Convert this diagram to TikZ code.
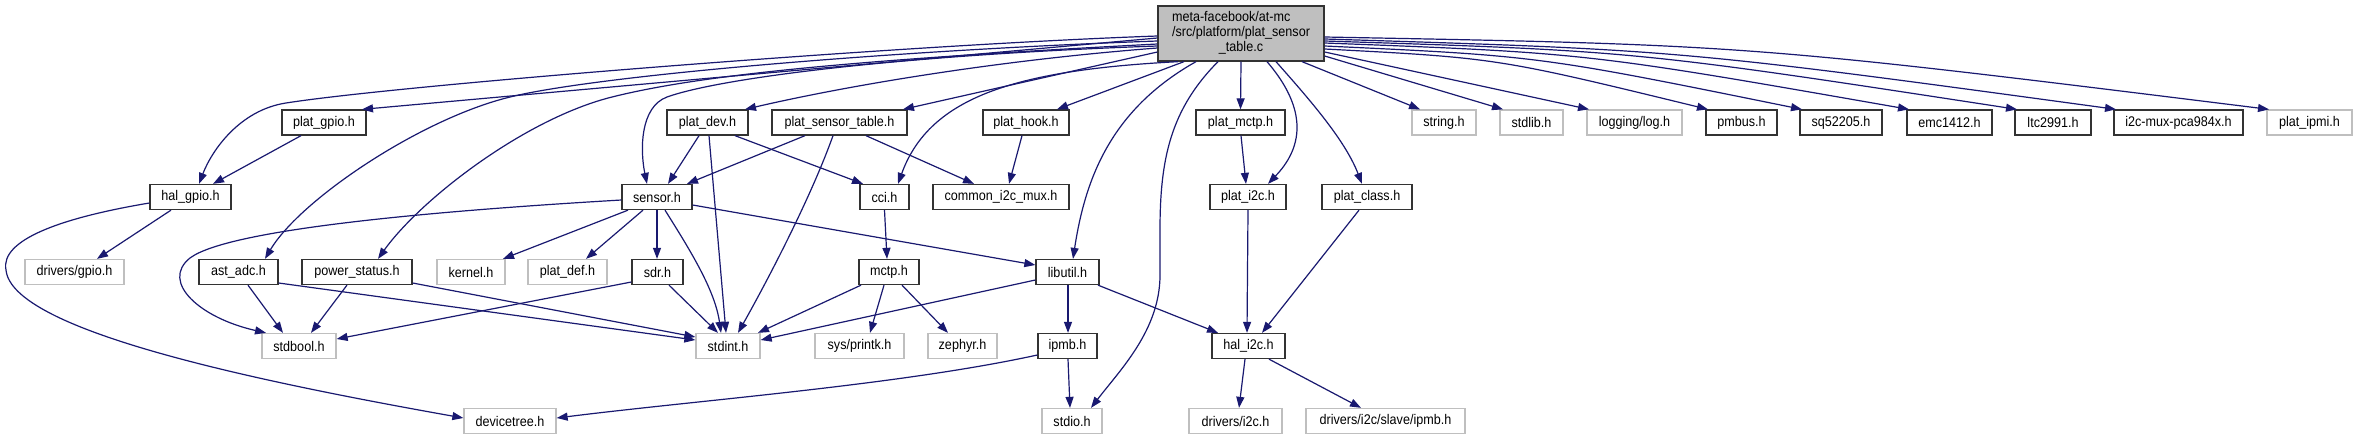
\documentclass[tikz,border=0pt]{standalone}
\usepackage{fontspec}
\setmainfont[FakeStretch=0.9]{Liberation Sans}
\usetikzlibrary{arrows.meta}
\definecolor{edgeblue}{RGB}{25,25,112}
\definecolor{lightg}{RGB}{191,191,191}
\begin{document}
\begin{tikzpicture}[x=1pt,y=-1pt,
  box/.style={draw=black!80, line width=1.3pt, fill=white, inner sep=0pt, minimum height=25pt, font=\fontsize{14}{15}\selectfont, anchor=center},
  sys/.style={box, draw=lightg},
  edge/.style={draw=edgeblue, line width=1.2pt, -{Triangle[length=11pt,width=8pt]}},
]
\useasboundingbox[fill=white] (0,0) rectangle (2357,440);
% root
\node[box, fill=lightg, minimum width=166pt, minimum height=55pt] (root) at (1241,33.5)
  {\begin{tabular}{@{}l@{}}meta-facebook/at-mc\\/src/platform/plat\_sensor\\\multicolumn{1}{@{}c@{}}{\_table.c}\end{tabular}};
% row 1
\node[box, minimum width=84pt] (pgpio) at (324,122.5) {plat\_gpio.h};
\node[box, minimum width=81pt] (pdev) at (707.5,122.5) {plat\_dev.h};
\node[box, minimum width=135pt] (pst) at (839.5,122.5) {plat\_sensor\_table.h};
\node[box, minimum width=86pt] (phook) at (1026,122.5) {plat\_hook.h};
\node[box, minimum width=89pt] (pmctp) at (1240.5,122.5) {plat\_mctp.h};
\node[sys, minimum width=64pt] (string) at (1444,122.5) {string.h};
\node[sys, minimum width=63pt] (stdlib) at (1531.5,122.5) {stdlib.h};
\node[sys, minimum width=95pt] (log) at (1634.5,122.5) {logging/log.h};
\node[box, minimum width=71pt] (pmbus) at (1741.5,122.5) {pmbus.h};
\node[box, minimum width=82pt] (sq) at (1841,122.5) {sq52205.h};
\node[box, minimum width=85pt] (emc) at (1949.5,122.5) {emc1412.h};
\node[box, minimum width=76pt] (ltc) at (2053,122.5) {ltc2991.h};
\node[box, minimum width=129pt] (i2cmux) at (2178.5,122.5) {i2c-mux-pca984x.h};
\node[sys, minimum width=85pt] (pipmi) at (2309.5,122.5) {plat\_ipmi.h};
% row 2
\node[box, minimum width=81pt] (hgpio) at (190.5,197) {hal\_gpio.h};
\node[box, minimum width=70pt] (sensor) at (657,197) {sensor.h};
\node[box, minimum width=49pt] (cci) at (884.5,197) {cci.h};
\node[box, minimum width=136pt] (common) at (1001,197) {common\_i2c\_mux.h};
\node[box, minimum width=76pt] (pi2c) at (1248,197) {plat\_i2c.h};
\node[box, minimum width=90pt] (pclass) at (1367,197) {plat\_class.h};
% row 3
\node[sys, minimum width=99pt] (dgpio) at (74.5,272) {drivers/gpio.h};
\node[box, minimum width=79pt] (astadc) at (238.5,272) {ast\_adc.h};
\node[box, minimum width=110pt] (pstat) at (357,272) {power\_status.h};
\node[sys, minimum width=68pt] (kernel) at (471,272) {kernel.h};
\node[sys, minimum width=79pt] (pdef) at (567.5,272) {plat\_def.h};
\node[box, minimum width=51pt] (sdr) at (657.5,272) {sdr.h};
\node[box, minimum width=60pt] (mctp) at (889,272) {mctp.h};
\node[box, minimum width=63pt] (libutil) at (1067.5,272) {libutil.h};
% row 4
\node[sys, minimum width=74pt] (stdbool) at (299,346) {stdbool.h};
\node[sys, minimum width=64pt] (stdint) at (728,346) {stdint.h};
\node[sys, minimum width=89pt] (printk) at (859.5,346) {sys/printk.h};
\node[sys, minimum width=69pt] (zephyr) at (962.5,346) {zephyr.h};
\node[box, minimum width=59pt] (ipmb) at (1067.5,346) {ipmb.h};
\node[box, minimum width=73pt] (hali2c) at (1248.5,346) {hal\_i2c.h};
% row 5
\node[sys, minimum width=92pt] (devtree) at (510,421) {devicetree.h};
\node[sys, minimum width=60pt] (stdio) at (1072,421) {stdio.h};
\node[sys, minimum width=93pt] (di2c) at (1235.5,421) {drivers/i2c.h};
\node[sys, minimum width=159pt] (slave) at (1385.5,421) {drivers/i2c/slave/ipmb.h};

% edges from root, left side
\draw[edge] (root.west |- 0,36) .. controls (900,45) and (400,85) .. (286,103) .. controls (240,110) and (212,150) .. (hgpio.north -| 199,0);
\draw[edge] (root.west |- 0,38) -- (pgpio.north -| 362,0);
\draw[edge] (root.west |- 0,41) .. controls (900,50) and (600,75) .. (510,97) .. controls (420,119) and (300,200) .. (astadc.north -| 265,0);
\draw[edge] (root.west |- 0,44) .. controls (850,60) and (700,75) .. (612,97) .. controls (524,119) and (420,200) .. (pstat.north -| 378,0);
\draw[edge] (root.west |- 0,46) .. controls (900,55) and (720,78) .. (667,97) .. controls (640,107) and (640,150) .. (sensor.north -| 647,0);
\draw[edge] (root.west |- 0,48) .. controls (1000,60) and (850,85) .. (pdev.north -| 745,0);
\draw[edge] (root.west |- 0,52) -- (pst.north -| 903,0);
% bottom
\draw[edge] (root.south -| 1178,0) .. controls (1020,70) and (930,95) .. (cci.north -| 898,0);
\draw[edge] (root.south -| 1184,0) -- (phook.north -| 1057,0);
\draw[edge] (root.south -| 1196,0) .. controls (1110,110) and (1085,180) .. (libutil.north -| 1073,0);
\draw[edge] (root.south -| 1218,0) .. controls (1170,110) and (1160,160) .. (1160,230) -- (1160,275) .. controls (1160,330) and (1120,370) .. (stdio.north -| 1091,0);
\draw[edge] (root.south) -- (pmctp.north);
\draw[edge] (root.south -| 1267,0) .. controls (1300,100) and (1310,140) .. (pi2c.north -| 1268,0);
\draw[edge] (root.south -| 1276,0) .. controls (1310,100) and (1345,140) .. (pclass.north -| 1362,0);
\draw[edge] (root.south -| 1302,0) -- (string.north -| 1420,0);
% right side
\draw[edge] (root.east |- 0,56) -- (stdlib.north -| 1503,0);
\draw[edge] (root.east |- 0,52) -- (log.north -| 1589,0);
\draw[edge] (root.east |- 0,49) .. controls (1497,58) .. (pmbus.north -| 1708,0);
\draw[edge] (root.east |- 0,46) .. controls (1539,56) .. (sq.north -| 1802,0);
\draw[edge] (root.east |- 0,43) .. controls (1587,53) .. (emc.north -| 1909,0);
\draw[edge] (root.east |- 0,41) .. controls (1636,51) .. (ltc.north -| 2017,0);
\draw[edge] (root.east |- 0,39) .. controls (1680,50) .. (i2cmux.north -| 2116,0);
\draw[edge] (root.east |- 0,37) .. controls (1750,45) .. (pipmi.north -| 2269,0);

% other edges
\draw[edge] (pgpio.south -| 301,0) -- (hgpio.north -| 213,0);
\draw[edge] (pdev.south -| 699,0) -- (sensor.north -| 668,0);
\draw[edge] (pdev.south -| 709,0) -- (stdint.north -| 726,0);
\draw[edge] (pdev.south -| 735,0) -- (cci.north -| 863,0);
\draw[edge] (pst.south -| 805,0) -- (sensor.north -| 687,0);
\draw[edge] (pst.south -| 833,0) .. controls (810,200) and (765,285) .. (stdint.north -| 738,0);
\draw[edge] (pst.south -| 866,0) -- (common.north -| 974,0);
\draw[edge] (phook.south -| 1022,0) -- (common.north -| 1009,0);
\draw[edge] (pmctp.south -| 1241,0) -- (pi2c.north -| 1246,0);
\draw[edge] (hgpio.south -| 171,0) -- (dgpio.north -| 97,0);
\draw[edge] (hgpio.west |- 0,203) .. controls (60,218) and (0,240) .. (6,270) .. controls (12,330) and (250,380) .. (devtree.west |- 0,418);
\draw[edge] (sensor.west |- 0,200) .. controls (450,210) and (230,228) .. (190,258) .. controls (160,282) and (200,318) .. (stdbool.north -| 266,0);
\draw[edge] (sensor.south -| 628,0) -- (kernel.north -| 503,0);
\draw[edge] (sensor.south -| 643,0) -- (pdef.north -| 586,0);
\draw[edge] (sensor.south -| 657,0) -- (sdr.north -| 657,0);
\draw[edge] (sensor.south -| 665,0) .. controls (690,250) and (715,290) .. (stdint.north -| 721,0);
\draw[edge] (sensor.east |- 0,205) -- (libutil.west |- 0,265);
\draw[edge] (cci.south) -- (mctp.north -| 887,0);
\draw[edge] (pi2c.south -| 1248,0) -- (hali2c.north -| 1247,0);
\draw[edge] (pclass.south -| 1359,0) -- (hali2c.north -| 1262,0);
\draw[edge] (astadc.south -| 248,0) -- (stdbool.north -| 283,0);
\draw[edge] (astadc.east |- 0,283) -- (stdint.west |- 0,340);
\draw[edge] (pstat.south -| 347,0) -- (stdbool.north -| 311,0);
\draw[edge] (pstat.east |- 0,283) -- (stdint.west |- 0,337);
\draw[edge] (sdr.west |- 0,282) -- (stdbool.east |- 0,339);
\draw[edge] (sdr.south -| 669,0) -- (stdint.north -| 718,0);
\draw[edge] (mctp.south -| 861,0) -- (stdint.north -| 758,0);
\draw[edge] (libutil.west |- 0,280) -- (stdint.east |- 0,340);
\draw[edge] (mctp.south -| 884,0) -- (printk.north -| 870,0);
\draw[edge] (mctp.south -| 902,0) -- (zephyr.north -| 948,0);
\draw[edge] (libutil.south -| 1068,0) -- (ipmb.north -| 1068,0);
\draw[edge] (libutil.south -| 1098,0) -- (hali2c.north -| 1218,0);
\draw[edge] (ipmb.south -| 1068,0) -- (stdio.north -| 1070,0);
\draw[edge] (ipmb.west |- 0,355) .. controls (900,385) and (700,400) .. (devtree.east |- 0,418);
\draw[edge] (hali2c.south -| 1245,0) -- (di2c.north -| 1239,0);
\draw[edge] (hali2c.south -| 1269,0) -- (slave.north -| 1361,0);
\end{tikzpicture}
\end{document}
